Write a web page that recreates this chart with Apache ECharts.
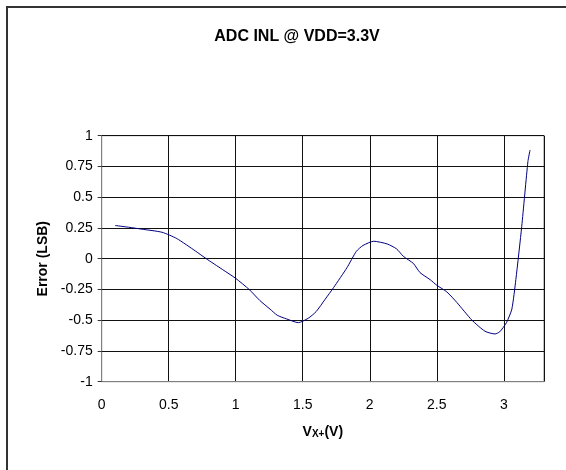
<!DOCTYPE html>
<html>
<head>
<meta charset="utf-8">
<script src="https://cdn.jsdelivr.net/npm/echarts@6/dist/echarts.min.js"></script>
<style>
html,body{margin:0;padding:0;background:#fff;}
#c{width:566px;height:470px;}
</style>
</head>
<body>
<div id="c"></div>
<script>
var titleText = 'ADC INL @ VDD=3.3V';
var yTitle = 'Error (LSB)';
var voltage = [0.1, 0.2, 0.3, 0.45, 0.56, 0.7, 0.78, 0.9, 1.0, 1.1, 1.18, 1.256, 1.31, 1.38, 1.467, 1.54, 1.6, 1.667, 1.73, 1.83, 1.9, 1.95, 2.03, 2.13, 2.2, 2.25, 2.325, 2.375, 2.45, 2.5, 2.575, 2.65, 2.76, 2.86, 2.935, 2.97, 3.02, 3.06, 3.09, 3.134, 3.18, 3.196];
var errorLsb = [0.27, 0.256, 0.24, 0.215, 0.164, 0.062, 0, -0.087, -0.16, -0.25, -0.34, -0.41, -0.46, -0.49, -0.52, -0.485, -0.43, -0.33, -0.235, -0.073, 0.06, 0.108, 0.142, 0.12, 0.08, 0.02, -0.038, -0.113, -0.17, -0.216, -0.27, -0.356, -0.497, -0.59, -0.612, -0.594, -0.52, -0.41, -0.17, 0.264, 0.79, 0.884];

var pts = voltage.map(function (v, i) { return [v, errorLsb[i]]; });
var FONT = 'Liberation Sans, Arial, sans-serif';

var chart = echarts.init(document.getElementById('c'), null, {renderer: 'canvas'});
chart.setOption({
  animation: false,
  backgroundColor: '#fff',
  title: {
    text: titleText,
    left: 292,
    top: 24,
    textAlign: 'center',
    textStyle: {fontFamily: FONT, fontSize: 16, fontWeight: 'bold', color: '#000'}
  },
  graphic: [{
    type: 'rect',
    shape: {x: 7, y: 7, width: 700, height: 600},
    style: {fill: 'none', stroke: '#333', lineWidth: 2},
    silent: true
  }],
  grid: {
    left: 101.7, right: 22, top: 135.7, bottom: 88.3,
    show: true, borderColor: '#808080', borderWidth: 1, backgroundColor: 'transparent'
  },
  xAxis: {
    type: 'value', min: 0, max: 3.3, interval: 0.5,
    name: '{v|V}{s|X+}{v|(V)}',
    nameLocation: 'middle', nameGap: 43,
    nameTextStyle: {
      fontFamily: FONT, fontSize: 14, fontWeight: 'bold', color: '#000',
      rich: {
        v: {fontFamily: FONT, fontSize: 14, fontWeight: 'bold', color: '#000'},
        s: {fontFamily: FONT, fontSize: 10, fontWeight: 'bold', color: '#000', padding: [5, 0, 0, 0]}
      }
    },
    axisLine: {show: true, onZero: false, lineStyle: {color: '#808080', width: 1}},
    axisTick: {show: false},
    axisLabel: {showMaxLabel: false, margin: 16, fontFamily: FONT, fontSize: 14, color: '#000'},
    splitLine: {show: true, lineStyle: {color: '#111', width: 1}}
  },
  yAxis: {
    type: 'value', min: -1, max: 1, interval: 0.25,
    name: yTitle,
    nameLocation: 'middle', nameGap: 47,
    nameTextStyle: {fontFamily: FONT, fontSize: 14, fontWeight: 'bold', color: '#000'},
    axisLine: {show: true, onZero: false, lineStyle: {color: '#808080', width: 1}},
    axisTick: {show: true, length: 4, lineStyle: {color: '#333'}},
    axisLabel: {margin: 9, fontFamily: FONT, fontSize: 14, color: '#000'},
    splitLine: {show: true, lineStyle: {color: '#111', width: 1}}
  },
  series: [{
    type: 'line',
    data: pts,
    showSymbol: false,
    symbol: 'none',
    smooth: 0.2,
    lineStyle: {color: '#000080', width: 1}
  }]
});
</script>
</body>
</html>
